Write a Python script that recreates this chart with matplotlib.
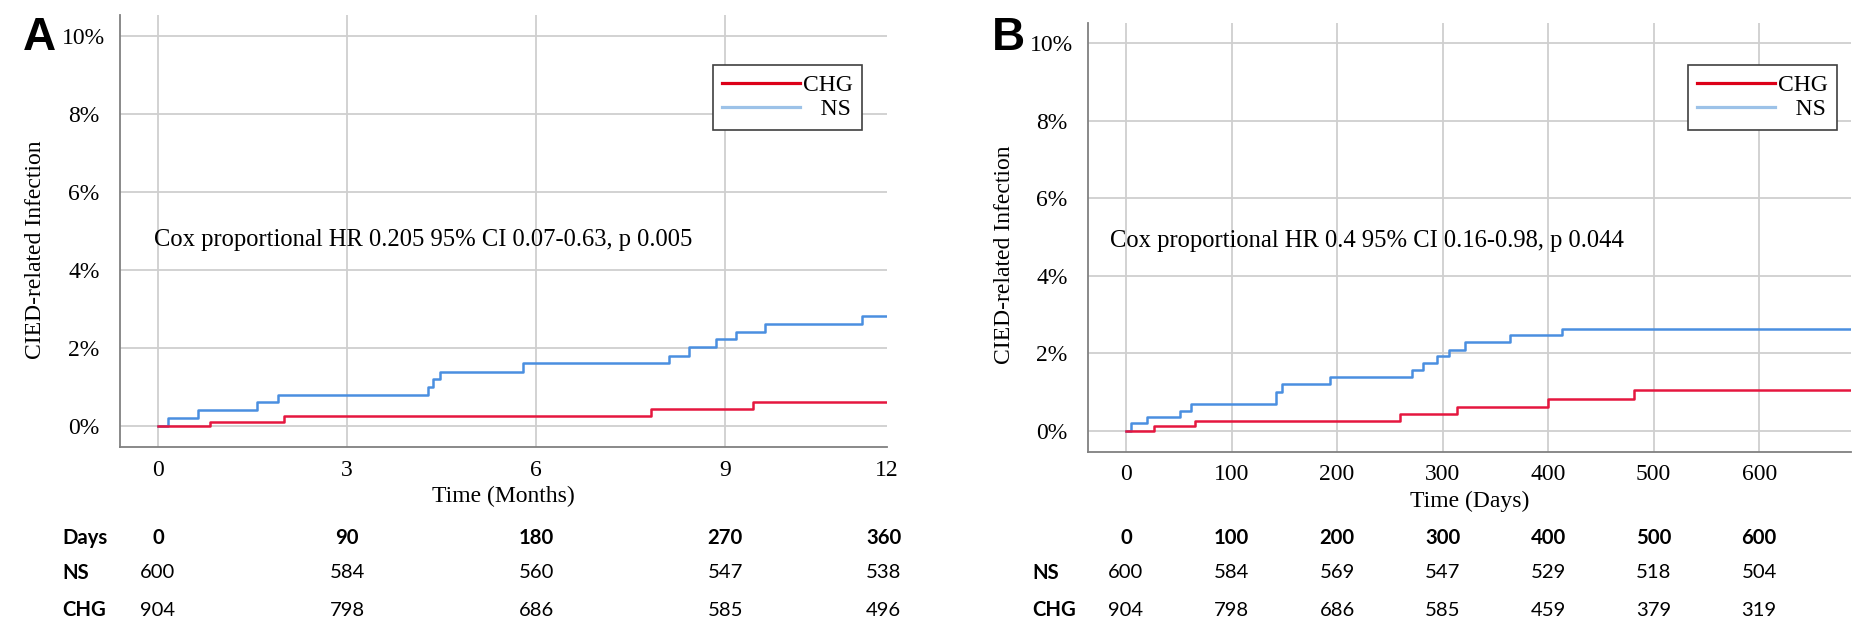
import matplotlib
matplotlib.use("Agg")
import matplotlib.pyplot as plt
from matplotlib.lines import Line2D
from matplotlib.ticker import FixedLocator, FuncFormatter
import matplotlib.transforms as mtransforms

# ---------------- data ----------------
# Panel A (months)
a_ns_t = [0, 0.16, 0.64, 1.57, 1.90, 4.29, 4.37, 4.48, 5.79, 8.11, 8.43, 8.86, 9.17, 9.63, 11.17, 11.57]
a_ns_v = [0, 0.19, 0.40, 0.60, 0.78, 0.98, 1.19, 1.37, 1.60, 1.78, 2.01, 2.22, 2.40, 2.60, 2.81, 2.81]
a_chg_t = [0, 0.82, 2.00, 7.82, 9.45, 11.57]
a_chg_v = [0, 0.10, 0.25, 0.42, 0.60, 0.60]

# Panel B (days)
b_ns_t = [0, 5, 20, 51, 62, 142, 148, 193, 271, 281, 295, 306, 321, 364, 413, 687]
b_ns_v = [0, 0.19, 0.36, 0.51, 0.69, 1.00, 1.21, 1.37, 1.56, 1.75, 1.92, 2.09, 2.28, 2.46, 2.62, 2.62]
b_chg_t = [0, 27, 65, 260, 314, 400, 481, 687]
b_chg_v = [0, 0.12, 0.25, 0.43, 0.60, 0.82, 1.05, 1.05]

y_ticks = [0, 2, 4, 6, 8, 10]
a_xtick_labels = ["0", "3", "6", "9", "12"]
b_xticks = [0, 100, 200, 300, 400, 500, 600]

a_days = ["0", "90", "180", "270", "360"]
a_ns_risk = ["600", "584", "560", "547", "538"]
a_chg_risk = ["904", "798", "686", "585", "496"]

b_days = ["0", "100", "200", "300", "400", "500", "600"]
b_ns_risk = ["600", "584", "569", "547", "529", "518", "504"]
b_chg_risk = ["904", "798", "686", "585", "459", "379", "319"]

a_text = "Cox proportional HR 0.205 95% CI 0.07-0.63, p 0.005"
b_text = "Cox proportional HR 0.4 95% CI 0.16-0.98, p 0.044"

# ---------------- style ----------------
SERIF = ["Liberation Serif", "DejaVu Serif"]
TABLE = ["Lato", "DejaVu Sans"]
RED = "#e5173f"
BLUE = "#4a8fe0"
LEG_RED = "#dc0018"
LEG_BLUE = "#9cc2e8"
GRID = "#cfcfcf"
SPINE = "#808080"
FS = 17

W, H = 1860, 629
fig = plt.figure(figsize=(W / 100, H / 100), dpi=100)
fig.patch.set_facecolor("white")


def px_axes(left, top, right, bottom):
    return fig.add_axes([left / W, 1 - bottom / H, (right - left) / W, (bottom - top) / H])


axA = px_axes(120, 15, 887, 447)
axB = px_axes(1088, 23, 1851, 452)

A_XMAX = 11.57


def style(ax, xlim, ylim, xticks, xlabels, xlabel, ylabel_xy):
    ax.set_xlim(*xlim)
    ax.set_ylim(*ylim)
    for s in ["top", "right"]:
        ax.spines[s].set_visible(False)
    for s in ["left", "bottom"]:
        ax.spines[s].set_color(SPINE)
        ax.spines[s].set_linewidth(1.3)
    ax.xaxis.set_major_locator(FixedLocator(xticks))
    ax.set_xticklabels(xlabels, fontfamily=SERIF, fontsize=FS)
    ax.yaxis.set_major_locator(FixedLocator(y_ticks))
    ax.yaxis.set_major_formatter(FuncFormatter(lambda v, p: f"{v:.0f}%"))
    ax.tick_params(axis="x", length=0, pad=9)
    ax.tick_params(axis="y", length=0, pad=26)
    for lab in ax.get_yticklabels():
        lab.set_fontfamily(SERIF)
        lab.set_fontsize(FS)
        lab.set_ha("center")
    ax.grid(True, color=GRID, linewidth=1.3)
    ax.set_axisbelow(True)
    ax.set_xlabel(xlabel, fontfamily=SERIF, fontsize=FS, labelpad=4)
    ax.set_ylabel("CIED-related Infection", fontfamily=SERIF, fontsize=FS)
    ax.yaxis.set_label_coords(*ylabel_xy)


style(axA, (-0.603, A_XMAX), (-0.552, 10.54), [0, 3, 6, 9, A_XMAX], a_xtick_labels,
      "Time (Months)", (-0.097, 0.456))
axA.xaxis.get_major_ticks()[-1].gridline.set_visible(False)
style(axB, (-36, 687), (-0.555, 10.52), b_xticks, [str(v) for v in b_xticks],
      "Time (Days)", (-0.096, 0.46))

# curves
for ax, (nt, nv, ct, cv) in [(axA, (a_ns_t, a_ns_v, a_chg_t, a_chg_v)),
                             (axB, (b_ns_t, b_ns_v, b_chg_t, b_chg_v))]:
    ax.step(nt, nv, where="post", color=BLUE, linewidth=1.8, zorder=3)
    ax.step(ct, cv, where="post", color=RED, linewidth=1.8, zorder=4)

# text annotations
axA.text(-0.06, 4.76, a_text, fontfamily=SERIF, fontsize=17.7, va="center", ha="left")
axB.text(-15, 4.9, b_text, fontfamily=SERIF, fontsize=17.7, va="center", ha="left")

# legends
handles = [Line2D([], [], color=LEG_RED, linewidth=2.3),
           Line2D([], [], color=LEG_BLUE, linewidth=2.3)]
labels = ["CHG", "   NS"]
for ax, anchor in [(axA, (0.9674, 0.884)), (axB, (0.9817, 0.902))]:
    leg = ax.legend(handles, labels, loc="upper right", bbox_to_anchor=anchor,
                    borderaxespad=0, frameon=True, fancybox=False, framealpha=1,
                    edgecolor="#404040", handlelength=3.3, handletextpad=0.1,
                    labelspacing=0.12, borderpad=0.4,
                    prop={"family": SERIF, "size": FS})
    leg.get_frame().set_linewidth(1.2)

# panel letters
fig.text(23 / W, 1 - 50 / H, "A", fontsize=33, fontweight="bold",
         fontfamily=["Liberation Sans", "DejaVu Sans"], va="baseline", ha="left")
fig.text(992 / W, 1 - 50 / H, "B", fontsize=33, fontweight="bold",
         fontfamily=["Liberation Sans", "DejaVu Sans"], va="baseline", ha="left")

# risk tables
ROW_Y = [1 - 538 / H, 1 - 573 / H, 1 - 610 / H]
TFS = 14.6


def risk_table(ax, xpos, days, ns, chg, label_x, show_days_label):
    tr = mtransforms.blended_transform_factory(ax.transData, fig.transFigure)
    if show_days_label:
        fig.text(label_x / W, ROW_Y[0], "Days", fontfamily=TABLE, fontsize=TFS,
                 fontweight="bold", va="center", ha="left")
    fig.text(label_x / W, ROW_Y[1], "NS", fontfamily=TABLE, fontsize=TFS,
             fontweight="bold", va="center", ha="left")
    fig.text(label_x / W, ROW_Y[2], "CHG", fontfamily=TABLE, fontsize=TFS,
             fontweight="bold", va="center", ha="left")
    for x, d, n, c in zip(xpos, days, ns, chg):
        ax.text(x, ROW_Y[0], d, transform=tr, fontfamily=TABLE, fontsize=TFS,
                fontweight="bold", va="center", ha="center", clip_on=False)
        ax.text(x, ROW_Y[1], n, transform=tr, fontfamily=TABLE, fontsize=TFS,
                va="center", ha="center", clip_on=False)
        ax.text(x, ROW_Y[2], c, transform=tr, fontfamily=TABLE, fontsize=TFS,
                va="center", ha="center", clip_on=False)


risk_table(axA, [0, 3, 6, 9, A_XMAX - 0.05], a_days, a_ns_risk, a_chg_risk, 62, True)
risk_table(axB, b_xticks, b_days, b_ns_risk, b_chg_risk, 1032, False)

fig.savefig("out.png", dpi=100, facecolor="white")
